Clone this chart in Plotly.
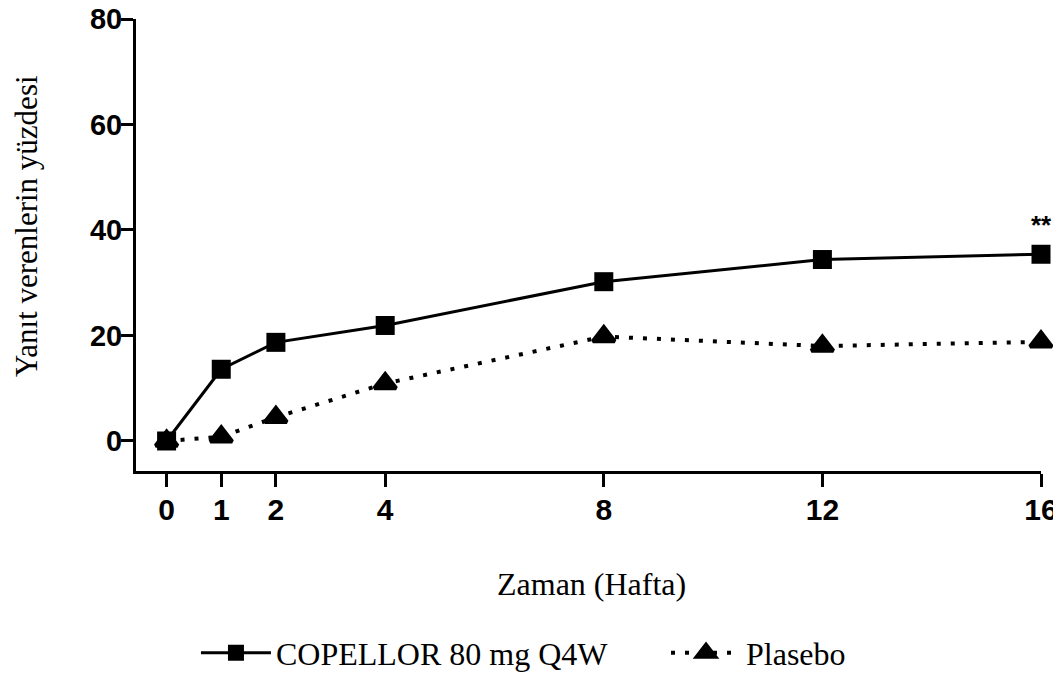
import plotly.graph_objects as go

weeks = [0, 1, 2, 4, 8, 12, 16]
copellor = [0, 13.6, 18.7, 21.9, 30.2, 34.4, 35.4]
placebo = [0, 0.8, 4.5, 10.9, 19.8, 18.0, 18.8]
tick_vals_x = [0, 1, 2, 4, 8, 12, 16]
tick_vals_y = [0, 20, 40, 60, 80]
name_a = "COPELLOR 80 mg Q4W"
name_b = "Plasebo"
x_title = "Zaman (Hafta)"
y_title = "Yanıt verenlerin yüzdesi"
sig_label = "**"

SERIF = "Liberation Serif, Times New Roman, serif"
SANS = "Liberation Sans, Arial, sans-serif"

fig = go.Figure()
fig.add_trace(go.Scatter(
    x=weeks, y=copellor, name=name_a, mode="lines+markers",
    line=dict(color="black", width=3),
    marker=dict(symbol="square", size=19, color="black"),
    cliponaxis=False, legend="legend",
))
fig.add_trace(go.Scatter(
    x=weeks, y=placebo, name=name_b, mode="lines+markers",
    line=dict(color="black", width=4, dash="4px,10px"),
    marker=dict(symbol="triangle-up", size=19, color="black",
                line=dict(color="black", width=4)),
    cliponaxis=False, legend="legend2",
))

fig.add_annotation(x=weeks[-1], y=copellor[-1], text=sig_label, showarrow=False,
                   yanchor="bottom", yshift=12,
                   font=dict(family=SANS, size=26, color="black", weight="bold"))

fig.add_annotation(xref="paper", yref="paper", x=-0.1215, y=0.542,
                   text=y_title, textangle=-90, showarrow=False,
                   xanchor="center", yanchor="middle",
                   font=dict(family=SERIF, size=31, color="black"))

fig.add_annotation(xref="paper", yref="paper", x=0.503, y=-0.25,
                   text=x_title, showarrow=False,
                   xanchor="center", yanchor="middle",
                   font=dict(family=SERIF, size=32, color="black"))

fig.update_layout(
    width=1053, height=665,
    margin=dict(l=128, r=20, t=11, b=202, autoexpand=False),
    paper_bgcolor="white", plot_bgcolor="white",
    showlegend=True,
    legend=dict(orientation="h", xref="container", yref="container",
                x=0.1785, y=0.0301, xanchor="left", yanchor="middle",
                font=dict(family=SERIF, size=32, color="black"),
                itemwidth=70, bgcolor="rgba(0,0,0,0)"),
    legend2=dict(orientation="h", xref="container", yref="container",
                 x=0.6249, y=0.0301, xanchor="left", yanchor="middle",
                 font=dict(family=SERIF, size=32, color="black"),
                 itemwidth=70, bgcolor="rgba(0,0,0,0)"),
    xaxis=dict(range=[-0.56, 16], tickvals=tick_vals_x, ticktext=[str(v) for v in tick_vals_x],
               showline=True, linecolor="black", linewidth=3,
               ticks="outside", ticklen=13, tickwidth=3, tickcolor="black",
               showgrid=False, zeroline=False, ticklabelstandoff=-3, automargin=False,
               ticklabeloverflow="allow",
               tickfont=dict(family=SANS, size=30, color="black", weight="bold")),
    yaxis=dict(range=[-5.69, 80], tickvals=tick_vals_y, ticktext=[str(v) for v in tick_vals_y],
               showline=True, linecolor="black", linewidth=3,
               ticks="outside", ticklen=12, tickwidth=3, tickcolor="black",
               showgrid=False, zeroline=False, ticklabelstandoff=-7, automargin=False,
               ticklabeloverflow="allow",
               tickfont=dict(family=SANS, size=29, color="black", weight="bold")),
)

fig.write_html("out.html")
